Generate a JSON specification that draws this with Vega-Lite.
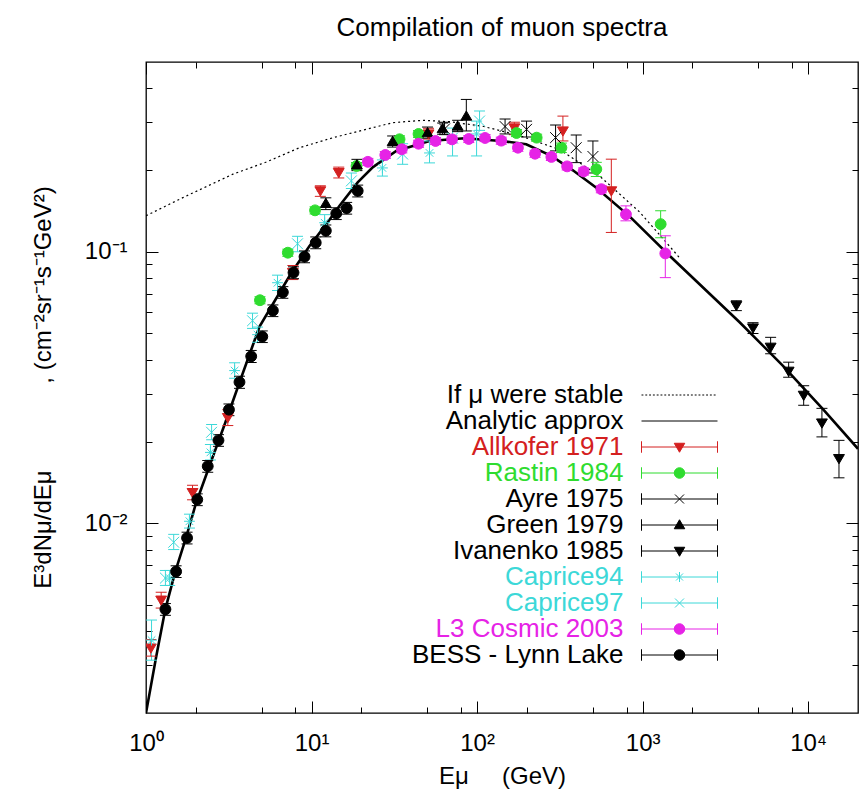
{
  "$schema": "https://vega.github.io/schema/vega-lite/v6.json",
  "width": 712,
  "height": 651,
  "autosize": {"type": "none"},
  "padding": {"left": 146, "top": 62, "right": 7, "bottom": 78},
  "background": "white",
  "title": {"text": "Compilation of muon spectra", "fontSize": 26, "font": "Liberation Sans", "fontWeight": "normal", "color": "black", "baseline": "alphabetic", "offset": 0, "anchor": "middle"},
  "config": {
    "view": {"stroke": "black", "strokeWidth": 1.3},
    "axis": {"grid": false, "domain": false, "ticks": true, "tickColor": "black", "tickWidth": 1, "labelFont": "Liberation Sans", "labelFontSize": 24, "labelColor": "black", "titleFont": "Liberation Sans", "titleFontSize": 24, "titleFontWeight": "normal", "titleColor": "black", "labelOverlap": false, "labelFlush": false, "labelBound": false}
  },
  "data": {"values": [
    {"series": "If μ were stable", "E": 1.0, "flux": 0.1357},
    {"series": "If μ were stable", "E": 1.67, "flux": 0.1583},
    {"series": "If μ were stable", "E": 3.35, "flux": 0.1931},
    {"series": "If μ were stable", "E": 5.33, "flux": 0.214},
    {"series": "If μ were stable", "E": 8.46, "flux": 0.2417},
    {"series": "If μ were stable", "E": 13.5, "flux": 0.2632},
    {"series": "If μ were stable", "E": 21.4, "flux": 0.2825},
    {"series": "If μ were stable", "E": 31.0, "flux": 0.2989},
    {"series": "If μ were stable", "E": 47.0, "flux": 0.3049},
    {"series": "If μ were stable", "E": 68.2, "flux": 0.3013},
    {"series": "If μ were stable", "E": 108, "flux": 0.290},
    {"series": "If μ were stable", "E": 180, "flux": 0.268},
    {"series": "If μ were stable", "E": 315, "flux": 0.238},
    {"series": "If μ were stable", "E": 550, "flux": 0.190},
    {"series": "If μ were stable", "E": 960, "flux": 0.140},
    {"series": "If μ were stable", "E": 1673, "flux": 0.095},
    {"series": "Analytic approx", "E": 1.0, "flux": 0.0020},
    {"series": "Analytic approx", "E": 1.15, "flux": 0.0032},
    {"series": "Analytic approx", "E": 1.31, "flux": 0.00484},
    {"series": "Analytic approx", "E": 1.5, "flux": 0.0066},
    {"series": "Analytic approx", "E": 1.75, "flux": 0.0089},
    {"series": "Analytic approx", "E": 2.0, "flux": 0.0118},
    {"series": "Analytic approx", "E": 2.5, "flux": 0.0172},
    {"series": "Analytic approx", "E": 3.0, "flux": 0.0233},
    {"series": "Analytic approx", "E": 3.67, "flux": 0.0330},
    {"series": "Analytic approx", "E": 4.85, "flux": 0.053},
    {"series": "Analytic approx", "E": 6.0, "flux": 0.066},
    {"series": "Analytic approx", "E": 7.5, "flux": 0.083},
    {"series": "Analytic approx", "E": 9.72, "flux": 0.105},
    {"series": "Analytic approx", "E": 12.0, "flux": 0.124},
    {"series": "Analytic approx", "E": 14.8, "flux": 0.148},
    {"series": "Analytic approx", "E": 19.0, "flux": 0.180},
    {"series": "Analytic approx", "E": 23.5, "flux": 0.205},
    {"series": "Analytic approx", "E": 32.5, "flux": 0.235},
    {"series": "Analytic approx", "E": 51.6, "flux": 0.256},
    {"series": "Analytic approx", "E": 84, "flux": 0.262},
    {"series": "Analytic approx", "E": 140, "flux": 0.256},
    {"series": "Analytic approx", "E": 198, "flux": 0.249},
    {"series": "Analytic approx", "E": 281, "flux": 0.2254},
    {"series": "Analytic approx", "E": 379, "flux": 0.1995},
    {"series": "Analytic approx", "E": 525, "flux": 0.172},
    {"series": "Analytic approx", "E": 834, "flux": 0.135},
    {"series": "Analytic approx", "E": 1455, "flux": 0.0967},
    {"series": "Analytic approx", "E": 3854, "flux": 0.055},
    {"series": "Analytic approx", "E": 7047, "flux": 0.038},
    {"series": "Analytic approx", "E": 12280, "flux": 0.0263},
    {"series": "Analytic approx", "E": 20000, "flux": 0.0188},

    {"series": "Allkofer 1971", "E": 1.07, "flux": 0.00347, "lo": 0.00324, "hi": 0.00373},
    {"series": "Allkofer 1971", "E": 1.235, "flux": 0.00521, "lo": 0.00487, "hi": 0.00557},
    {"series": "Allkofer 1971", "E": 1.91, "flux": 0.01297, "lo": 0.0122, "hi": 0.0138},
    {"series": "Allkofer 1971", "E": 3.12, "flux": 0.0245, "lo": 0.0229, "hi": 0.0262},
    {"series": "Allkofer 1971", "E": 7.71, "flux": 0.0839, "lo": 0.079, "hi": 0.089},
    {"series": "Allkofer 1971", "E": 11.3, "flux": 0.1676, "lo": 0.160, "hi": 0.175},
    {"series": "Allkofer 1971", "E": 14.6, "flux": 0.1957, "lo": 0.187, "hi": 0.205},
    {"series": "Allkofer 1971", "E": 50.9, "flux": 0.2716, "lo": 0.26, "hi": 0.285},
    {"series": "Allkofer 1971", "E": 168, "flux": 0.2858, "lo": 0.27, "hi": 0.30},
    {"series": "Allkofer 1971", "E": 330, "flux": 0.2786, "lo": 0.256, "hi": 0.316},
    {"series": "Allkofer 1971", "E": 647, "flux": 0.1676, "lo": 0.1178, "hi": 0.2193},

    {"series": "Rastin 1984", "E": 4.88, "flux": 0.0663, "lo": 0.0643, "hi": 0.0683},
    {"series": "Rastin 1984", "E": 7.19, "flux": 0.0992, "lo": 0.0962, "hi": 0.1022},
    {"series": "Rastin 1984", "E": 10.5, "flux": 0.1421, "lo": 0.1378, "hi": 0.1464},
    {"series": "Rastin 1984", "E": 18.7, "flux": 0.2070, "lo": 0.2008, "hi": 0.2132},
    {"series": "Rastin 1984", "E": 34.0, "flux": 0.2596, "lo": 0.2518, "hi": 0.2674},
    {"series": "Rastin 1984", "E": 44.3, "flux": 0.2716, "lo": 0.2635, "hi": 0.2797},
    {"series": "Rastin 1984", "E": 173, "flux": 0.2738, "lo": 0.2656, "hi": 0.2820},
    {"series": "Rastin 1984", "E": 229, "flux": 0.2632, "lo": 0.2553, "hi": 0.2711},
    {"series": "Rastin 1984", "E": 323, "flux": 0.2417, "lo": 0.2320, "hi": 0.2514},
    {"series": "Rastin 1984", "E": 525, "flux": 0.2014, "lo": 0.1893, "hi": 0.2135},
    {"series": "Rastin 1984", "E": 1285, "flux": 0.1264, "lo": 0.1126, "hi": 0.1415},

    {"series": "Ayre 1975", "E": 63.6, "flux": 0.2834, "lo": 0.27, "hi": 0.30},
    {"series": "Ayre 1975", "E": 147.6, "flux": 0.2893, "lo": 0.2716, "hi": 0.3083},
    {"series": "Ayre 1975", "E": 199, "flux": 0.2825, "lo": 0.2647, "hi": 0.3029},
    {"series": "Ayre 1975", "E": 298, "flux": 0.2633, "lo": 0.2352, "hi": 0.2930},
    {"series": "Ayre 1975", "E": 397, "flux": 0.2417, "lo": 0.2130, "hi": 0.2692},
    {"series": "Ayre 1975", "E": 501, "flux": 0.2244, "lo": 0.1951, "hi": 0.2559},

    {"series": "Green 1979", "E": 12.2, "flux": 0.1507, "lo": 0.143, "hi": 0.158},
    {"series": "Green 1979", "E": 18.8, "flux": 0.2089, "lo": 0.199, "hi": 0.219},
    {"series": "Green 1979", "E": 30.9, "flux": 0.2549, "lo": 0.243, "hi": 0.267},
    {"series": "Green 1979", "E": 50.2, "flux": 0.2745, "lo": 0.262, "hi": 0.288},
    {"series": "Green 1979", "E": 61.9, "flux": 0.2844, "lo": 0.271, "hi": 0.298},
    {"series": "Green 1979", "E": 76.3, "flux": 0.2904, "lo": 0.277, "hi": 0.305},
    {"series": "Green 1979", "E": 86.1, "flux": 0.316, "lo": 0.2786, "hi": 0.364},

    {"series": "Ivanenko 1985", "E": 3683, "flux": 0.0633, "lo": 0.0607, "hi": 0.0660},
    {"series": "Ivanenko 1985", "E": 4642, "flux": 0.0524, "lo": 0.0500, "hi": 0.0548},
    {"series": "Ivanenko 1985", "E": 5933, "flux": 0.0445, "lo": 0.0421, "hi": 0.0484},
    {"series": "Ivanenko 1985", "E": 7622, "flux": 0.0363, "lo": 0.0345, "hi": 0.0392},
    {"series": "Ivanenko 1985", "E": 9395, "flux": 0.0296, "lo": 0.0272, "hi": 0.0321},
    {"series": "Ivanenko 1985", "E": 12110, "flux": 0.0234, "lo": 0.0208, "hi": 0.0265},
    {"series": "Ivanenko 1985", "E": 15350, "flux": 0.0173, "lo": 0.0147, "hi": 0.0202},

    {"series": "Caprice94", "E": 1.08, "flux": 0.00371, "lo": 0.00313, "hi": 0.00440},
    {"series": "Caprice94", "E": 1.39, "flux": 0.00628, "lo": 0.0059, "hi": 0.0067},
    {"series": "Caprice94", "E": 1.83, "flux": 0.01017, "lo": 0.0096, "hi": 0.0108},
    {"series": "Caprice94", "E": 2.45, "flux": 0.01824, "lo": 0.0171, "hi": 0.0195},
    {"series": "Caprice94", "E": 3.43, "flux": 0.0365, "lo": 0.0342, "hi": 0.0390},
    {"series": "Caprice94", "E": 4.72, "flux": 0.0495, "lo": 0.0464, "hi": 0.0528},
    {"series": "Caprice94", "E": 6.23, "flux": 0.0769, "lo": 0.0720, "hi": 0.0820},
    {"series": "Caprice94", "E": 12.0, "flux": 0.1279, "lo": 0.120, "hi": 0.137},
    {"series": "Caprice94", "E": 26.8, "flux": 0.2036, "lo": 0.190, "hi": 0.218},
    {"series": "Caprice94", "E": 51.6, "flux": 0.2312, "lo": 0.2125, "hi": 0.2559},
    {"series": "Caprice94", "E": 99.3, "flux": 0.2716, "lo": 0.2254, "hi": 0.3029},

    {"series": "Caprice97", "E": 1.31, "flux": 0.00628, "lo": 0.0059, "hi": 0.0067},
    {"series": "Caprice97", "E": 1.47, "flux": 0.00851, "lo": 0.0080, "hi": 0.0091},
    {"series": "Caprice97", "E": 2.49, "flux": 0.02163, "lo": 0.0203, "hi": 0.0231},
    {"series": "Caprice97", "E": 4.40, "flux": 0.0557, "lo": 0.0522, "hi": 0.0594},
    {"series": "Caprice97", "E": 8.23, "flux": 0.1070, "lo": 0.100, "hi": 0.114},
    {"series": "Caprice97", "E": 17.4, "flux": 0.1824, "lo": 0.171, "hi": 0.195},
    {"series": "Caprice97", "E": 35.5, "flux": 0.2291, "lo": 0.210, "hi": 0.250},
    {"series": "Caprice97", "E": 71.1, "flux": 0.2624, "lo": 0.2254, "hi": 0.2855},
    {"series": "Caprice97", "E": 103.5, "flux": 0.3031, "lo": 0.28, "hi": 0.33},

    {"series": "L3 Cosmic 2003", "E": 21.9, "flux": 0.2144, "lo": 0.2080, "hi": 0.2208},
    {"series": "L3 Cosmic 2003", "E": 27.9, "flux": 0.2273, "lo": 0.2205, "hi": 0.2341},
    {"series": "L3 Cosmic 2003", "E": 35.1, "flux": 0.2385, "lo": 0.2313, "hi": 0.2457},
    {"series": "L3 Cosmic 2003", "E": 44.3, "flux": 0.2500, "lo": 0.2425, "hi": 0.2575},
    {"series": "L3 Cosmic 2003", "E": 56.1, "flux": 0.2559, "lo": 0.2482, "hi": 0.2636},
    {"series": "L3 Cosmic 2003", "E": 70.6, "flux": 0.2594, "lo": 0.2516, "hi": 0.2672},
    {"series": "L3 Cosmic 2003", "E": 89.1, "flux": 0.2603, "lo": 0.2525, "hi": 0.2681},
    {"series": "L3 Cosmic 2003", "E": 111.7, "flux": 0.2625, "lo": 0.2546, "hi": 0.2704},
    {"series": "L3 Cosmic 2003", "E": 140, "flux": 0.2566, "lo": 0.2489, "hi": 0.2643},
    {"series": "L3 Cosmic 2003", "E": 176.5, "flux": 0.2417, "lo": 0.2344, "hi": 0.2490},
    {"series": "L3 Cosmic 2003", "E": 224, "flux": 0.2297, "lo": 0.2228, "hi": 0.2366},
    {"series": "L3 Cosmic 2003", "E": 281, "flux": 0.2235, "lo": 0.2168, "hi": 0.2302},
    {"series": "L3 Cosmic 2003", "E": 350, "flux": 0.2063, "lo": 0.2001, "hi": 0.2125},
    {"series": "L3 Cosmic 2003", "E": 440, "flux": 0.1977, "lo": 0.1918, "hi": 0.2036},
    {"series": "L3 Cosmic 2003", "E": 563, "flux": 0.1700, "lo": 0.1649, "hi": 0.1751},
    {"series": "L3 Cosmic 2003", "E": 793, "flux": 0.1374, "lo": 0.1300, "hi": 0.1476},
    {"series": "L3 Cosmic 2003", "E": 1371, "flux": 0.0986, "lo": 0.0803, "hi": 0.1145},

    {"series": "BESS - Lynn Lake", "E": 1.31, "flux": 0.00482, "lo": 0.00458, "hi": 0.00506},
    {"series": "BESS - Lynn Lake", "E": 1.52, "flux": 0.00664, "lo": 0.00631, "hi": 0.00697},
    {"series": "BESS - Lynn Lake", "E": 1.77, "flux": 0.00883, "lo": 0.00839, "hi": 0.00927},
    {"series": "BESS - Lynn Lake", "E": 2.04, "flux": 0.01222, "lo": 0.01161, "hi": 0.01283},
    {"series": "BESS - Lynn Lake", "E": 2.36, "flux": 0.01622, "lo": 0.01541, "hi": 0.01703},
    {"series": "BESS - Lynn Lake", "E": 2.74, "flux": 0.0202, "lo": 0.0192, "hi": 0.0212},
    {"series": "BESS - Lynn Lake", "E": 3.17, "flux": 0.0262, "lo": 0.0249, "hi": 0.0275},
    {"series": "BESS - Lynn Lake", "E": 3.67, "flux": 0.0331, "lo": 0.0314, "hi": 0.0348},
    {"series": "BESS - Lynn Lake", "E": 4.32, "flux": 0.0412, "lo": 0.0391, "hi": 0.0433},
    {"series": "BESS - Lynn Lake", "E": 5.04, "flux": 0.0487, "lo": 0.0463, "hi": 0.0511},
    {"series": "BESS - Lynn Lake", "E": 5.84, "flux": 0.0607, "lo": 0.0577, "hi": 0.0637},
    {"series": "BESS - Lynn Lake", "E": 6.71, "flux": 0.0709, "lo": 0.0674, "hi": 0.0744},
    {"series": "BESS - Lynn Lake", "E": 7.78, "flux": 0.0838, "lo": 0.0796, "hi": 0.0880},
    {"series": "BESS - Lynn Lake", "E": 9.07, "flux": 0.0959, "lo": 0.0911, "hi": 0.1007},
    {"series": "BESS - Lynn Lake", "E": 10.6, "flux": 0.108, "lo": 0.1026, "hi": 0.1134},
    {"series": "BESS - Lynn Lake", "E": 12.2, "flux": 0.1195, "lo": 0.1135, "hi": 0.1255},
    {"series": "BESS - Lynn Lake", "E": 14.1, "flux": 0.1383, "lo": 0.1314, "hi": 0.1452},
    {"series": "BESS - Lynn Lake", "E": 16.3, "flux": 0.1448, "lo": 0.1376, "hi": 0.1520},
    {"series": "BESS - Lynn Lake", "E": 19.0, "flux": 0.1676, "lo": 0.1592, "hi": 0.1760}
  ]},
  "resolve": {"axis": {"x": "independent", "y": "independent"}},
  "layer": [
    {
      "transform": [{"filter": "datum.series == 'If μ were stable'"}],
      "mark": {"type": "line", "strokeDash": [2, 3], "strokeWidth": 1.2, "color": "black", "clip": true},
      "encoding": {
        "x": {"field": "E", "type": "quantitative", "scale": {"type": "log", "domain": [1, 20000], "nice": false},
          "axis": {"orient": "bottom", "values": [1, 2, 5, 8, 10, 20, 50, 80, 100, 200, 500, 800, 1000, 2000, 5000, 8000, 10000],
            "tickSize": {"condition": {"test": "datum.value == 1 || datum.value == 10 || datum.value == 100 || datum.value == 1000 || datum.value == 10000", "value": -12}, "value": -6},
            "labelExpr": "datum.value == 1 ? '10⁰' : datum.value == 10 ? '10¹' : datum.value == 100 ? '10²' : datum.value == 1000 ? '10³' : datum.value == 10000 ? '10⁴' : ''",
            "labelPadding": 30, "labelBaseline": "top",
            "title": "Eμ\u00a0\u00a0\u00a0\u00a0\u00a0(GeV)", "titleY": 70, "titleBaseline": "alphabetic"}},
        "y": {"field": "flux", "type": "quantitative", "scale": {"type": "log", "domain": [0.002, 0.5], "nice": false},
          "axis": {"orient": "left", "values": [0.003, 0.004, 0.005, 0.006, 0.007, 0.008, 0.009, 0.01, 0.02, 0.03, 0.04, 0.05, 0.06, 0.07, 0.08, 0.09, 0.1, 0.2, 0.3, 0.4],
            "tickSize": {"condition": {"test": "datum.value == 0.01 || datum.value == 0.1", "value": -12}, "value": -6},
            "labelExpr": "datum.value == 0.01 ? '10⁻²' : datum.value == 0.1 ? '10⁻¹' : ''",
            "labelPadding": 31, "labelBaseline": "middle", "labelAlign": "right",
            "title": "E³dNμ/dEμ\u00a0\u00a0\u00a0\u00a0\u00a0\u00a0\u00a0\u00a0\u00a0\u00a0\u00a0\u00a0\u00a0, (cm⁻²sr⁻¹s⁻¹GeV²)", "titleX": -96, "titleY": 325, "titleBaseline": "alphabetic", "titleAngle": 270, "titleAlign": "center"}}
      }
    },
    {
      "transform": [{"filter": "datum.series == 'Analytic approx'"}],
      "mark": {"type": "line", "strokeWidth": 2.6, "color": "black", "clip": true},
      "encoding": {
        "x": {"field": "E", "type": "quantitative", "axis": null},
        "y": {"field": "flux", "type": "quantitative", "axis": null}
      }
    },
    {
      "transform": [{"filter": "isValid(datum.lo)"}],
      "mark": {"type": "rule", "strokeWidth": 1, "clip": true},
      "encoding": {
        "x": {"field": "E", "type": "quantitative", "axis": null},
        "y": {"field": "lo", "type": "quantitative", "axis": null},
        "y2": {"field": "hi"},
        "color": {"field": "series", "type": "nominal",
          "scale": {"domain": ["If μ were stable", "Analytic approx", "Allkofer 1971", "Rastin 1984", "Ayre 1975", "Green 1979", "Ivanenko 1985", "Caprice94", "Caprice97", "L3 Cosmic 2003", "BESS - Lynn Lake"],
            "range": ["#000000", "#000000", "#d42020", "#2fdc2f", "#000000", "#000000", "#000000", "#3cd8d8", "#3cd8d8", "#e623e6", "#000000"]}}
      }
    },
    {
      "transform": [{"filter": "isValid(datum.lo)"}],
      "mark": {"type": "tick", "orient": "horizontal", "size": 11, "thickness": 1, "opacity": 1, "clip": true},
      "encoding": {
        "x": {"field": "E", "type": "quantitative", "axis": null},
        "y": {"field": "lo", "type": "quantitative", "axis": null},
        "color": {"field": "series", "type": "nominal"}
      }
    },
    {
      "transform": [{"filter": "isValid(datum.hi)"}],
      "mark": {"type": "tick", "orient": "horizontal", "size": 11, "thickness": 1, "opacity": 1, "clip": true},
      "encoding": {
        "x": {"field": "E", "type": "quantitative", "axis": null},
        "y": {"field": "hi", "type": "quantitative", "axis": null},
        "color": {"field": "series", "type": "nominal"}
      }
    },
    {
      "transform": [{"filter": "isValid(datum.lo)"}],
      "mark": {"type": "point", "filled": true, "opacity": 1, "size": 118, "strokeWidth": 1, "clip": true},
      "encoding": {
        "x": {"field": "E", "type": "quantitative",
          "axis": {"orient": "top", "values": [1, 2, 5, 8, 10, 20, 50, 80, 100, 200, 500, 800, 1000, 2000, 5000, 8000, 10000], "labels": false, "title": null,
            "tickSize": {"condition": {"test": "datum.value == 1 || datum.value == 10 || datum.value == 100 || datum.value == 1000 || datum.value == 10000", "value": -12}, "value": -6}}},
        "y": {"field": "flux", "type": "quantitative",
          "axis": {"orient": "right", "values": [0.003, 0.004, 0.005, 0.006, 0.007, 0.008, 0.009, 0.01, 0.02, 0.03, 0.04, 0.05, 0.06, 0.07, 0.08, 0.09, 0.1, 0.2, 0.3, 0.4], "labels": false, "title": null,
            "tickSize": {"condition": {"test": "datum.value == 0.01 || datum.value == 0.1", "value": -12}, "value": -6}}},
        "color": {"field": "series", "type": "nominal",
          "legend": {
            "title": null, "orient": "none", "legendX": 495, "legendY": 320, "padding": 0, "rowPadding": 0,
            "symbolSize": 625, "symbolStrokeWidth": 1, "symbolOpacity": 1, "symbolOffset": 25.5,
            "symbolType": {"expr": "datum.value == 'If μ were stable' ? 'M-22.5,0M-3.04,0h0.152M-2.736,0h0.152M-2.432,0h0.152M-2.128,0h0.152M-1.824,0h0.152M-1.52,0h0.152M-1.216,0h0.152M-0.912,0h0.152M-0.608,0h0.152M-0.304,0h0.152M0,0h0.152M0.304,0h0.152M0.608,0h0.152M0.912,0h0.152M1.216,0h0.152M1.52,0h0.152M1.824,0h0.152M2.128,0h0.152M2.432,0h0.152M2.736,0h0.152' : datum.value == 'Analytic approx' ? 'M-22.5,0M-3.04,0H3.04' : (datum.value == 'Rastin 1984' || datum.value == 'L3 Cosmic 2003' || datum.value == 'BESS - Lynn Lake') ? 'M-22.5,0M-3.04,0H3.04M-3.04,-0.46V0.46M3.04,-0.46V0.46M-0.42,0A0.42,0.42 0 1 0 0.42,0A0.42,0.42 0 1 0 -0.42,0Z' : (datum.value == 'Allkofer 1971' || datum.value == 'Ivanenko 1985') ? 'M-22.5,0M-3.04,0H3.04M-3.04,-0.46V0.46M3.04,-0.46V0.46M-0.42,-0.3L0.42,-0.3L0,0.42Z' : datum.value == 'Green 1979' ? 'M-22.5,0M-3.04,0H3.04M-3.04,-0.46V0.46M3.04,-0.46V0.46M-0.42,0.3L0.42,0.3L0,-0.42Z' : datum.value == 'Caprice94' ? 'M-22.5,0M-3.04,0H3.04M-3.04,-0.46V0.46M3.04,-0.46V0.46M0,-0.4V0.4M-0.28,-0.28L0.28,0.28M-0.28,0.28L0.28,-0.28' : 'M-22.5,0M-3.04,0H3.04M-3.04,-0.46V0.46M3.04,-0.46V0.46M-0.36,-0.36L0.36,0.36M-0.36,0.36L0.36,-0.36'"},
            "symbolFillColor": {"expr": "scale('color', datum.value)"},
            "symbolStrokeColor": {"expr": "scale('color', datum.value)"},
            "labelColor": {"expr": "scale('color', datum.value)"},
            "labelFont": "Liberation Sans", "labelFontSize": 26, "labelAlign": "right", "labelBaseline": "middle", "labelOffset": -69, "labelLimit": 400
          }},
        "stroke": {"field": "series", "type": "nominal", "legend": null,
          "scale": {"domain": ["If μ were stable", "Analytic approx", "Allkofer 1971", "Rastin 1984", "Ayre 1975", "Green 1979", "Ivanenko 1985", "Caprice94", "Caprice97", "L3 Cosmic 2003", "BESS - Lynn Lake"],
            "range": ["#000000", "#000000", "#d42020", "#2fdc2f", "#000000", "#000000", "#000000", "#3cd8d8", "#3cd8d8", "#e623e6", "#000000"]}},
        "shape": {"field": "series", "type": "nominal", "legend": null,
          "scale": {"domain": ["Allkofer 1971", "Rastin 1984", "Ayre 1975", "Green 1979", "Ivanenko 1985", "Caprice94", "Caprice97", "L3 Cosmic 2003", "BESS - Lynn Lake"],
            "range": ["M-1,-0.75L1,-0.75L0,0.95Z", "circle", "M-1,-1L1,1M-1,1L1,-1", "M-1,0.75L1,0.75L0,-0.95Z", "M-1,-0.75L1,-0.75L0,0.95Z", "M-1,0H1M0,-1V1M-0.7,-0.7L0.7,0.7M-0.7,0.7L0.7,-0.7", "M-1,-1L1,1M-1,1L1,-1", "circle", "circle"]}}
      }
    }
  ]
}
